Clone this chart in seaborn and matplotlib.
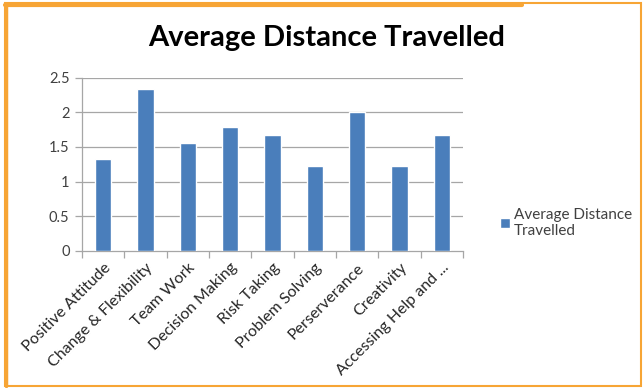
import numpy as np
import pandas as pd
import matplotlib
matplotlib.use("Agg")
import matplotlib.pyplot as plt
from matplotlib.patches import Rectangle
from matplotlib.lines import Line2D
import seaborn as sns

# Data
categories = ["Positive Attitude", "Change & Flexibility", "Team Work",
              "Decision Making", "Risk Taking", "Problem Solving",
              "Perserverance", "Creativity", "Accessing Help and ..."]
values = [1.33, 2.33, 1.56, 1.78, 1.67, 1.22, 2.0, 1.22, 1.67]
series_name = "Average Distance Travelled"
yticks = [0, 0.5, 1, 1.5, 2, 2.5]
ytick_labels = ["0", "0.5", "1", "1.5", "2", "2.5"]

df = pd.DataFrame({"cat": categories, "val": values})

sns.set_theme(style="white")
plt.rcParams["font.family"] = ["Lato", "DejaVu Sans"]

bar_color = "#4a7ebb"
grid_color = "#a6a6a6"
text_color = "#404040"
orange = "#f7a535"

fig = plt.figure(figsize=(6.44, 3.88), dpi=100)
ax = fig.add_axes([82 / 644, 1 - 251 / 388, (463 - 82) / 644, (251 - 77.5) / 388])

sns.barplot(data=df, x="cat", y="val", color=bar_color, width=0.38,
            saturation=1, ax=ax, label=series_name, zorder=3)

ax.set_ylim(0, 2.5)
ax.set_xlim(-0.5, len(categories) - 0.5)
ax.set_yticks(yticks)
ax.set_yticklabels(ytick_labels, fontsize=10.5, color=text_color)
for y in yticks[1:]:
    ax.axhline(y, color=grid_color, lw=0.9, zorder=1)

# category ticks sit on the boundaries between bars
ax.set_xticks(np.arange(len(categories) + 1) - 0.5, minor=True)
ax.set_xticks(np.arange(len(categories)))
ax.set_xticklabels(categories, rotation=45, ha="right", rotation_mode="anchor",
                   fontsize=11.5, color="#262626")
ax.tick_params(axis="x", which="major", length=0, pad=7)
ax.tick_params(axis="x", which="minor", length=5, color=grid_color, width=0.9, bottom=True)
ax.tick_params(axis="y", length=5, color=grid_color, width=0.9, left=True, pad=4)

for side in ["top", "right"]:
    ax.spines[side].set_visible(False)
for side in ["left", "bottom"]:
    ax.spines[side].set_color(grid_color)
    ax.spines[side].set_linewidth(0.9)
ax.set_xlabel("")
ax.set_ylabel("")

fig.text(327 / 644, 1 - 38 / 388, series_name, ha="center", va="center",
         fontsize=21, fontweight="bold", color="black")

leg = ax.legend(loc="center left", bbox_to_anchor=(486 / 644, 1 - 223 / 388),
                bbox_transform=fig.transFigure, frameon=False, fontsize=11,
                handlelength=0.7, handleheight=0.7, handletextpad=0.2,
                labelspacing=0)
leg.get_texts()[0].set_text("Average Distance\nTravelled")
leg.get_texts()[0].set_color(text_color)

# orange frame around the chart (thicker on the top-left part)
fig.patches.append(Rectangle((5 / 644, 2.5 / 388), 636 / 644, 383 / 388,
                             transform=fig.transFigure, fill=False,
                             edgecolor=orange, lw=1.5, zorder=0))
fig.lines.append(Line2D([5 / 644, 522 / 644], [1 - 4.5 / 388, 1 - 4.5 / 388],
                        transform=fig.transFigure, color=orange, lw=3))
fig.lines.append(Line2D([5.5 / 644, 5.5 / 644], [2.5 / 388, 1 - 4.5 / 388],
                        transform=fig.transFigure, color=orange, lw=2.5))

fig.savefig("out.png", dpi=100)
